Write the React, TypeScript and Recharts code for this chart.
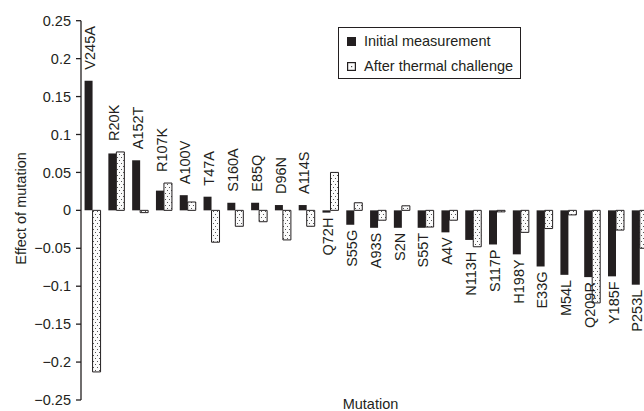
import React from 'react';
import { BarChart, Bar, XAxis, YAxis, Legend, LabelList } from 'recharts';

const categories = [
  'V245A', 'R20K', 'A152T', 'R107K', 'A100V', 'T47A', 'S160A', 'E85Q', 'D96N', 'A114S',
  'Q72H', 'S55G', 'A93S', 'S2N', 'S55T', 'A4V', 'N113H', 'S117P', 'H198Y', 'E33G',
  'M54L', 'Q209R', 'Y185F', 'P253L',
];
const initialMeasurement = [
  0.171, 0.075, 0.066, 0.026, 0.020, 0.018, 0.010, 0.010, 0.007, 0.007,
  -0.003, -0.019, -0.023, -0.023, -0.023, -0.029, -0.039, -0.045, -0.058, -0.074,
  -0.085, -0.088, -0.087, -0.098,
];
const afterThermalChallenge = [
  -0.213, 0.077, -0.003, 0.036, 0.011, -0.042, -0.021, -0.015, -0.039, -0.021,
  0.050, 0.010, -0.013, 0.006, -0.022, -0.013, -0.048, -0.002, -0.029, -0.024,
  -0.006, -0.122, -0.026, -0.050,
];
const yTicks = [0.25, 0.2, 0.15, 0.1, 0.05, 0, -0.05, -0.1, -0.15, -0.2, -0.25];
const seriesNames = ['Initial measurement', 'After thermal challenge'];
const xTitle = 'Mutation';
const yTitle = 'Effect of mutation';

const data = categories.map((name, i) => ({
  name,
  initial: initialMeasurement[i],
  thermal: afterThermalChallenge[i],
}));

const INK = '#231f20';
const FONT = '"Liberation Sans", Arial, Helvetica, sans-serif';
const FS = 14.5;

const formatTick = (v: number) => (v < 0 ? '\u2212' + String(Math.abs(v)) : String(v));

const CategoryLabel = (props: any) => {
  const vb = props.viewBox && props.viewBox.width !== undefined ? props.viewBox : props;
  const { x, y, width, height } = vb;
  const index = props.index;
  const v = initialMeasurement[index];
  const w = afterThermalChallenge[index];
  const top = Math.min(y, y + height);
  const bottom = Math.max(y, y + height);
  const span = bottom - top;
  const ppu = Math.abs(v) > 0 ? span / Math.abs(v) : 0;
  const zeroY = v >= 0 ? bottom : top;
  const cx = x + width - 2.5;
  let anchorY: number;
  let anchor: 'start' | 'end';
  if (v >= 0) {
    const maxV = Math.max(v, w, 0);
    anchorY = zeroY - maxV * ppu - 11;
    anchor = 'start';
  } else {
    const lower = w < v && v - w < 0.02 ? w : v;
    anchorY = zeroY - lower * ppu + 5;
    anchor = 'end';
  }
  return (
    <text
      x={cx}
      y={anchorY}
      transform={`rotate(-90, ${cx}, ${anchorY})`}
      textAnchor={anchor}
      dy="0.36em"
      fontSize={FS}
      fontFamily={FONT}
      fill={INK}
    >
      {categories[index]}
    </text>
  );
};

const renderLegend = () => (
  <div
    style={{
      boxSizing: 'border-box',
      width: 183,
      height: 52,
      border: `1.3px solid ${INK}`,
      background: '#fff',
      fontFamily: FONT,
      fontSize: FS,
      color: INK,
      paddingTop: 0.5,
    }}
  >
    {seriesNames.map((name, i) => (
      <div key={name} style={{ height: 25, display: 'flex', alignItems: 'center' }}>
        <svg width={9} height={9} style={{ marginLeft: 7.5, flex: 'none' }}>
          {i === 0 ? (
            <rect x={0} y={0} width={9} height={9} fill={INK} />
          ) : (
            <g>
              <rect x={0.6} y={0.6} width={7.8} height={7.8} fill="#fbfbfb" stroke={INK} strokeWidth={1.2} />
              <rect x={4} y={4} width={1.2} height={1.2} fill="#444" />
            </g>
          )}
        </svg>
        <span style={{ marginLeft: 8.5, whiteSpace: 'nowrap', lineHeight: '16px' }}>{name}</span>
      </div>
    ))}
  </div>
);

export default function App() {
  return (
    <div
      style={{
        position: 'fixed',
        left: 0,
        top: 0,
        width: 644,
        height: 411,
        overflow: 'hidden',
        background: '#fff',
      }}
    >
      <BarChart
        width={652}
        height={411}
        data={data}
        margin={{ top: 20.7, right: 0, bottom: 11, left: 0 }}
        barCategoryGap="15%"
        barGap={0}
      >
        <defs>
          <pattern id="dots" width="4" height="6" patternUnits="userSpaceOnUse">
            <rect width="4" height="6" fill="#fbfbfb" />
            <rect x="1" y="1" width="1" height="1" fill="#555" />
            <rect x="3" y="4" width="1" height="1" fill="#555" />
          </pattern>
        </defs>
        <XAxis dataKey="name" hide />
        <YAxis
          width={81}
          domain={[-0.25, 0.25]}
          ticks={yTicks}
          interval={0}
          tickFormatter={formatTick}
          tick={{ fontSize: FS, fill: INK, fontFamily: FONT }}
          tickSize={5}
          tickMargin={5}
          axisLine={{ stroke: INK, strokeWidth: 1.3 }}
          tickLine={{ stroke: INK, strokeWidth: 1.3 }}
        />
        <Legend
          content={renderLegend}
          layout="vertical"
          align="center"
          verticalAlign="middle"
          wrapperStyle={{ left: 338, top: 27, width: 183, height: 52 }}
        />
        <Bar dataKey="initial" name={seriesNames[0]} fill={INK} isAnimationActive={false}>
          <LabelList dataKey="initial" content={CategoryLabel} />
        </Bar>
        <Bar
          dataKey="thermal"
          name={seriesNames[1]}
          fill="url(#dots)"
          stroke={INK}
          strokeWidth={1}
          isAnimationActive={false}
        />
        <text
          x={21}
          y={208.5}
          transform="rotate(-90, 21, 208.5)"
          textAnchor="middle"
          dy="0.36em"
          fontSize={FS}
          fontFamily={FONT}
          fill={INK}
        >
          {yTitle}
        </text>
        <text x={370.5} y={408.5} textAnchor="middle" fontSize={FS} fontFamily={FONT} fill={INK}>
          {xTitle}
        </text>
      </BarChart>
    </div>
  );
}
